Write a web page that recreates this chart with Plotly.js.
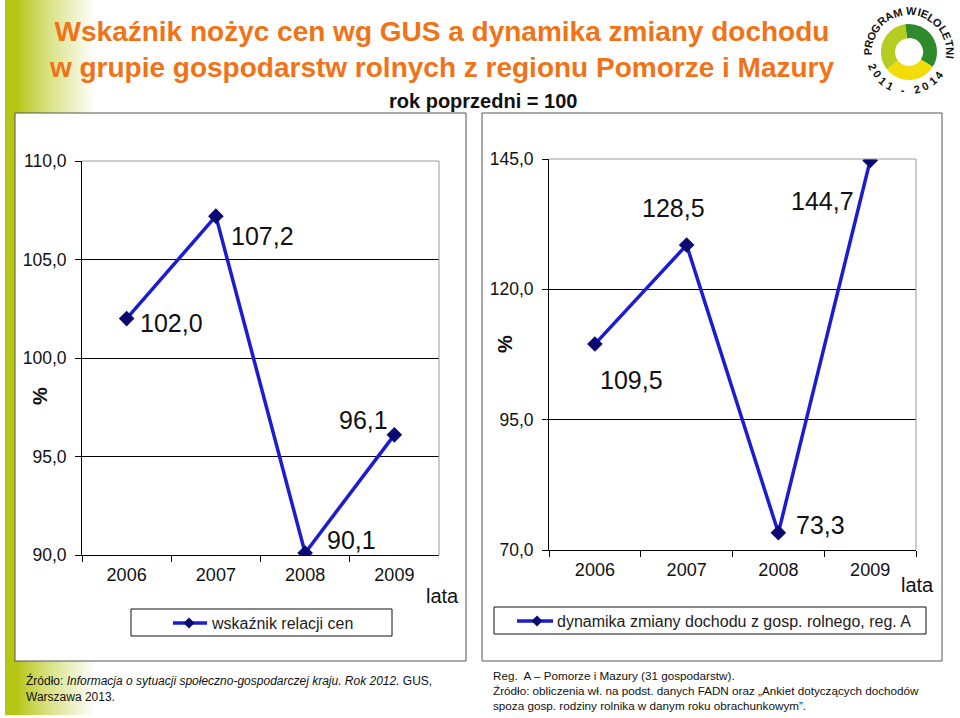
<!DOCTYPE html>
<html><head><meta charset="utf-8">
<script src="https://cdn.plot.ly/plotly-3.0.1.min.js"></script>
<style>html,body{margin:0;padding:0;background:#fff}#chart{width:960px;height:718px}</style>
</head><body><div id="chart"></div>
<script>
// ---- data ----
const years = ['2006', '2007', '2008', '2009'];
const priceIndex = [102.0, 107.2, 90.1, 96.1];
const incomeDynamics = [109.5, 128.5, 73.3, 144.7];
const priceName = 'wskaźnik relacji cen';
const incomeName = 'dynamika zmiany dochodu z gosp. rolnego, reg. A';
const leftTickVals = [90, 95, 100, 105, 110];
const rightTickVals = [70, 95, 120, 145];
const titleText = 'Wskaźnik nożyc cen wg GUS a dynamika zmiany dochodu<br>w grupie gospodarstw rolnych z regionu Pomorze i Mazury';
const subtitleText = 'rok poprzedni = 100';
const xAxisName = 'lata';
const yAxisName = '%';
const noteLeft = 'Źródło: <i>Informacja o sytuacji społeczno-gospodarczej kraju. Rok 2012.</i> GUS,<br>Warszawa 2013.';
const noteRight = 'Reg.  A – Pomorze i Mazury (31 gospodarstw).<br>Źródło: obliczenia wł. na podst. danych FADN oraz „Ankiet dotyczących dochodów<br>spoza gosp. rodziny rolnika w danym roku obrachunkowym”.';
const logoTop = 'PROGRAM WIELOLETNI';
const logoBottom = '2011 - 2014';

// ---- label offsets (pixels) ----
const leftLabelShift = [[45, -4], [47, -20], [46, 13], [-31, 15]];
const rightLabelShift = [[37, -36], [-13, 37], [42, 8], [-48, -40]];

// ---- helpers ----
const W = 960, H = 718;
const px = x => x / W;
const py = y => 1 - y / H;
const FONT = 'Liberation Sans, Arial, sans-serif';
const LINE_BLUE = '#1c1cd0';
const MARK = '#0a0a70';
const fmt = v => v.toFixed(1).replace('.', ',');

const traces = [
  {type: 'scatter', mode: 'lines+markers', x: years, y: priceIndex, name: priceName,
   xaxis: 'x', yaxis: 'y', line: {color: LINE_BLUE, width: 3.5},
   marker: {symbol: 'diamond', size: 12, color: MARK}, showlegend: false, hoverinfo: 'x+y'},
  {type: 'scatter', mode: 'lines+markers', x: years, y: incomeDynamics, name: incomeName,
   xaxis: 'x2', yaxis: 'y2', line: {color: LINE_BLUE, width: 3.5},
   marker: {symbol: 'diamond', size: 12, color: MARK}, showlegend: false, hoverinfo: 'x+y'},
  {type: 'pie', values: [130, 110, 120], sort: false, direction: 'clockwise', rotation: -8,
   marker: {colors: ['#2f8a2c', '#f2dc0a', '#b7cc20'], line: {width: 0}},
   hole: 0.5, textinfo: 'none', hoverinfo: 'skip', showlegend: false,
   domain: {x: [px(881), px(937)], y: [py(80), py(24)]}}
];

const xCommon = {
  type: 'category', range: [-0.5, 3.5], showline: true, linecolor: '#000', linewidth: 1,
  ticks: 'outside', tickson: 'boundaries', ticklen: 6, tickcolor: '#000', ticklabelstandoff: 3,
  showgrid: false, tickfont: {family: FONT, size: 18, color: '#111'}, fixedrange: true
};
const yCommon = {
  showline: true, linecolor: '#000', linewidth: 1, ticks: 'outside', ticklen: 6, tickcolor: '#000',
  showgrid: true, gridcolor: '#000', gridwidth: 1, zeroline: false, tickformat: '.1f',
  ticklabelstandoff: 5,
  tickfont: {family: FONT, size: 17.5, color: '#111'}, fixedrange: true, tickmode: 'array'
};

const annotations = [];
function ann(o) { annotations.push(Object.assign({showarrow: false, xanchor: 'center', yanchor: 'middle'}, o)); }

// data labels (x given as category index)
priceIndex.forEach((v, i) => ann({xref: 'x', yref: 'y', x: years.indexOf(years[i]), y: v, text: fmt(v),
  xshift: leftLabelShift[i][0], yshift: leftLabelShift[i][1], font: {family: FONT, size: 25, color: '#111'}}));
incomeDynamics.forEach((v, i) => ann({xref: 'x2', yref: 'y2', x: years.indexOf(years[i]), y: v, text: fmt(v),
  xshift: rightLabelShift[i][0], yshift: rightLabelShift[i][1], font: {family: FONT, size: 25, color: '#111'}}));

// axis names
ann({xref: 'paper', yref: 'paper', x: px(40), y: py(396), text: '<b>' + yAxisName + '</b>', textangle: -90,
  font: {family: FONT, size: 20, color: '#111'}});
ann({xref: 'paper', yref: 'paper', x: px(505), y: py(344), text: '<b>' + yAxisName + '</b>', textangle: -90,
  font: {family: FONT, size: 20, color: '#111'}});
ann({xref: 'paper', yref: 'paper', x: px(442), y: py(596), text: xAxisName, font: {family: FONT, size: 20, color: '#111'}});
ann({xref: 'paper', yref: 'paper', x: px(917), y: py(585), text: xAxisName, font: {family: FONT, size: 20, color: '#111'}});

// legends text
ann({xref: 'paper', yref: 'paper', x: px(209), y: py(623), xanchor: 'left', text: priceName,
  font: {family: FONT, size: 16, color: '#222'}});
ann({xref: 'paper', yref: 'paper', x: px(555), y: py(621), xanchor: 'left', text: incomeName,
  font: {family: FONT, size: 16, color: '#222'}});

// subtitle and notes
ann({xref: 'paper', yref: 'paper', x: px(483), y: py(101), text: '<b>' + subtitleText + '</b>',
  font: {family: FONT, size: 20, color: '#111'}});
ann({xref: 'paper', yref: 'paper', x: px(24), y: py(671), xanchor: 'left', yanchor: 'top', align: 'left',
  text: noteLeft, font: {family: FONT, size: 12, color: '#111'}});
ann({xref: 'paper', yref: 'paper', x: px(491), y: py(667), xanchor: 'left', yanchor: 'top', align: 'left',
  text: noteRight, font: {family: FONT, size: 11.7, color: '#111'}});

// logo lettering (proportional spacing along arcs)
const charW = {P: .667, R: .722, O: .778, G: .778, A: .722, M: .833, ' ': .35, W: .944, I: .3, E: .667,
  L: .611, T: .611, N: .722, '0': .556, '1': .556, '2': .556, '4': .556, '-': .333};
function arcText(str, cx, cy, r, centerDeg, size, spacing, top) {
  const widths = [...str].map(c => (charW[c] || .6) * size + spacing);
  const total = widths.reduce((a, b) => a + b, 0);
  let pos = -total / 2;
  [...str].forEach((c, i) => {
    const mid = pos + widths[i] / 2;
    pos += widths[i];
    if (c === ' ') return;
    const th = top ? centerDeg - (mid / r) * 180 / Math.PI : centerDeg + (mid / r) * 180 / Math.PI;
    const t = th * Math.PI / 180;
    ann({xref: 'paper', yref: 'paper', x: px(cx + r * Math.cos(t)), y: py(cy - r * Math.sin(t)),
      text: '<b>' + c + '</b>', textangle: top ? 90 - th : -(th + 90),
      font: {family: FONT, size: size, color: '#111'}});
  });
}
arcText(logoTop, 909, 52, 41, 88, 11, 0.6, true);
arcText(logoBottom, 908, 52, 38, -97, 11, 2.6, false);

// shapes
const shapes = [
  {type: 'rect', xref: 'paper', yref: 'paper', x0: px(15), x1: px(466), y0: py(661), y1: py(113),
   fillcolor: '#fff', line: {color: '#555', width: 1}, layer: 'below'},
  {type: 'rect', xref: 'paper', yref: 'paper', x0: px(482), x1: px(942), y0: py(661), y1: py(113),
   fillcolor: '#fff', line: {color: '#555', width: 1}, layer: 'below'},
  // plot borders (top/right) gray
  {type: 'line', xref: 'x domain', yref: 'y domain', x0: 0, x1: 1, y0: 1, y1: 1, line: {color: '#999', width: 1}, layer: 'above'},
  {type: 'line', xref: 'x domain', yref: 'y domain', x0: 1, x1: 1, y0: 0, y1: 1, line: {color: '#999', width: 1}, layer: 'above'},
  {type: 'line', xref: 'x2 domain', yref: 'y2 domain', x0: 0, x1: 1, y0: 1, y1: 1, line: {color: '#999', width: 1}, layer: 'above'},
  {type: 'line', xref: 'x2 domain', yref: 'y2 domain', x0: 1, x1: 1, y0: 0, y1: 1, line: {color: '#999', width: 1}, layer: 'above'},
  // legend boxes
  {type: 'rect', xref: 'paper', yref: 'paper', x0: px(131), x1: px(392), y0: py(636), y1: py(609),
   fillcolor: '#fff', line: {color: '#111', width: 1}, layer: 'below'},
  {type: 'rect', xref: 'paper', yref: 'paper', x0: px(494), x1: px(926), y0: py(634), y1: py(607),
   fillcolor: '#fff', line: {color: '#111', width: 1}, layer: 'below'},
  {type: 'line', xref: 'paper', yref: 'paper', x0: px(173), x1: px(207), y0: py(623), y1: py(623), line: {color: LINE_BLUE, width: 3.5}},
  {type: 'line', xref: 'paper', yref: 'paper', x0: px(517), x1: px(553), y0: py(621), y1: py(621), line: {color: LINE_BLUE, width: 3.5}}
];
function diamond(cx, cy, s) {
  return {type: 'path', xref: 'paper', yref: 'paper',
    path: `M ${px(cx)} ${py(cy - s)} L ${px(cx + s)} ${py(cy)} L ${px(cx)} ${py(cy + s)} L ${px(cx - s)} ${py(cy)} Z`,
    fillcolor: MARK, line: {color: MARK, width: 0}};
}
shapes.push(diamond(189, 623, 5.5), diamond(537, 621, 5.5));

const gradSvg = '<svg xmlns="http://www.w3.org/2000/svg" width="960" height="718">' +
  '<defs><linearGradient id="g" x1="0" x2="1" y1="0" y2="0">' +
  '<stop offset="0" stop-color="#b5c614"/><stop offset="0.12" stop-color="#b5c614"/>' +
  '<stop offset="0.45" stop-color="#d6e07a"/><stop offset="1" stop-color="#ffffff"/></linearGradient></defs>' +
  '<rect x="0" y="0" width="90" height="715" fill="url(#g)"/></svg>';
const gradUri = 'data:image/svg+xml;charset=utf-8,' + encodeURIComponent(gradSvg);

const layout = {
  width: W, height: H, margin: {l: 0, r: 0, t: 0, b: 0},
  paper_bgcolor: 'rgba(0,0,0,0)', plot_bgcolor: 'rgba(0,0,0,0)',
  separators: ', ', showlegend: false,
  title: {text: '<b>' + titleText + '</b>', x: px(442), xanchor: 'center', y: py(41), yanchor: 'middle',
    font: {family: FONT, size: 28, color: '#f07318'}},
  xaxis: Object.assign({}, xCommon, {domain: [px(82), px(439)], anchor: 'y'}),
  yaxis: Object.assign({}, yCommon, {domain: [py(555), py(161)], range: [90, 110], tickvals: leftTickVals, anchor: 'x'}),
  xaxis2: Object.assign({}, xCommon, {domain: [px(549), px(916)], anchor: 'y2'}),
  yaxis2: Object.assign({}, yCommon, {domain: [py(550), py(159)], range: [70, 145], tickvals: rightTickVals, anchor: 'x2'}),
  annotations: annotations,
  shapes: shapes,
  images: [{source: gradUri, xref: 'paper', yref: 'paper', x: px(5), y: 1, sizex: 1, sizey: 1,
    xanchor: 'left', yanchor: 'top', sizing: 'stretch', layer: 'below'}]
};

Plotly.newPlot('chart', traces, layout, {displayModeBar: false, staticPlot: true});
</script></body></html>
